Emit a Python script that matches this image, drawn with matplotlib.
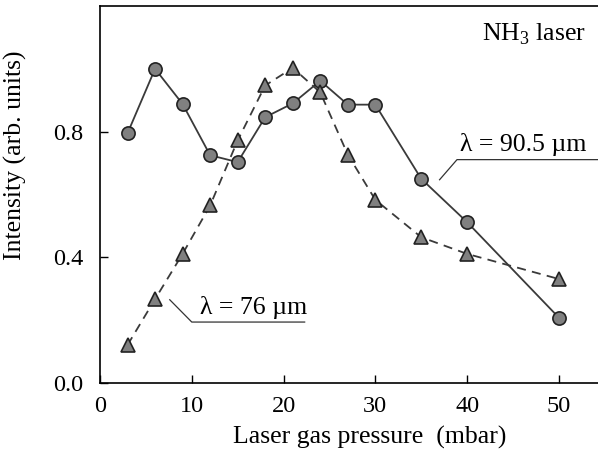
import numpy as np
import matplotlib
matplotlib.use("Agg")
import matplotlib.pyplot as plt

plt.rcParams['font.family'] = ['Liberation Serif', 'DejaVu Serif']
plt.rcParams['mathtext.fontset'] = 'custom'
plt.rcParams['mathtext.rm'] = 'Liberation Serif'

# data
pressure = [3, 6, 9, 12, 15, 18, 21, 24, 27, 30, 35, 40, 50]
line_905 = [0.795, 1.0, 0.888, 0.725, 0.703, 0.846, 0.890, 0.962, 0.886, 0.886, 0.650, 0.512, 0.208]
line_76 = [0.121, 0.267, 0.411, 0.565, 0.772, 0.947, 1.003, 0.925, 0.727, 0.583, 0.464, 0.411, 0.331]

xticks = [0, 10, 20, 30, 40, 50]
yticks = [0.0, 0.4, 0.8]

# leader lines for the labels (data coords)
lead_76_x = [7.6, 10.0, 22.3]
lead_76_y = [0.265, 0.194, 0.194]
lead_905_x = [37.0, 38.9, 60]
lead_905_y = [0.647, 0.711, 0.711]

fig = plt.figure(figsize=(5.98, 4.54), dpi=100)
ax = fig.add_axes([100 / 598, 71 / 454, 558 / 598, 377 / 454])

ax.plot(pressure, line_905, '-', color='#3a3a3a', lw=1.3, marker='o', ms=9.5,
        mfc='#808080', mec='#222222', mew=1.2, zorder=3)
ax.plot(pressure, line_76, '--', color='#3a3a3a', lw=1.3, dashes=(5, 3.5), marker='^', ms=10,
        mfc='#808080', mec='#222222', mew=1.2, zorder=3)

ax.plot(lead_76_x, lead_76_y, color='#333333', lw=0.9)
ax.plot(lead_905_x, lead_905_y, color='#333333', lw=0.9, clip_on=False)

fs = 18.5
ax.text(10.9, 0.205, 'λ = 76 µm', fontsize=fs, ha='left', va='bottom')
ax.text(39.2, 0.722, 'λ = 90.5 µm', fontsize=fs, ha='left', va='bottom')
ax.text(53.0, 1.11, 'NH$_3$ laser', fontsize=fs, ha='right', va='center')

ax.set_xlim(0, 60.8)
ax.set_ylim(0, 1.2)
ax.set_xticks(xticks)
ax.set_yticks(yticks)
ax.set_yticklabels(['%.1f' % v for v in yticks])
ax.tick_params(direction='in', length=6, width=1, labelsize=17.5)
ax.tick_params(axis='y', pad=12)
ax.tick_params(axis='x', pad=9)

ax.set_xlabel('Laser gas pressure  (mbar)', fontsize=fs)
ax.set_ylabel('Intensity (arb. units)', fontsize=fs)
ax.xaxis.set_label_coords(0.484, -0.114)
ax.yaxis.set_label_coords(-0.13, 0.605)

for s in ax.spines.values():
    s.set_linewidth(1.2)

fig.savefig('out.png', dpi=100)
